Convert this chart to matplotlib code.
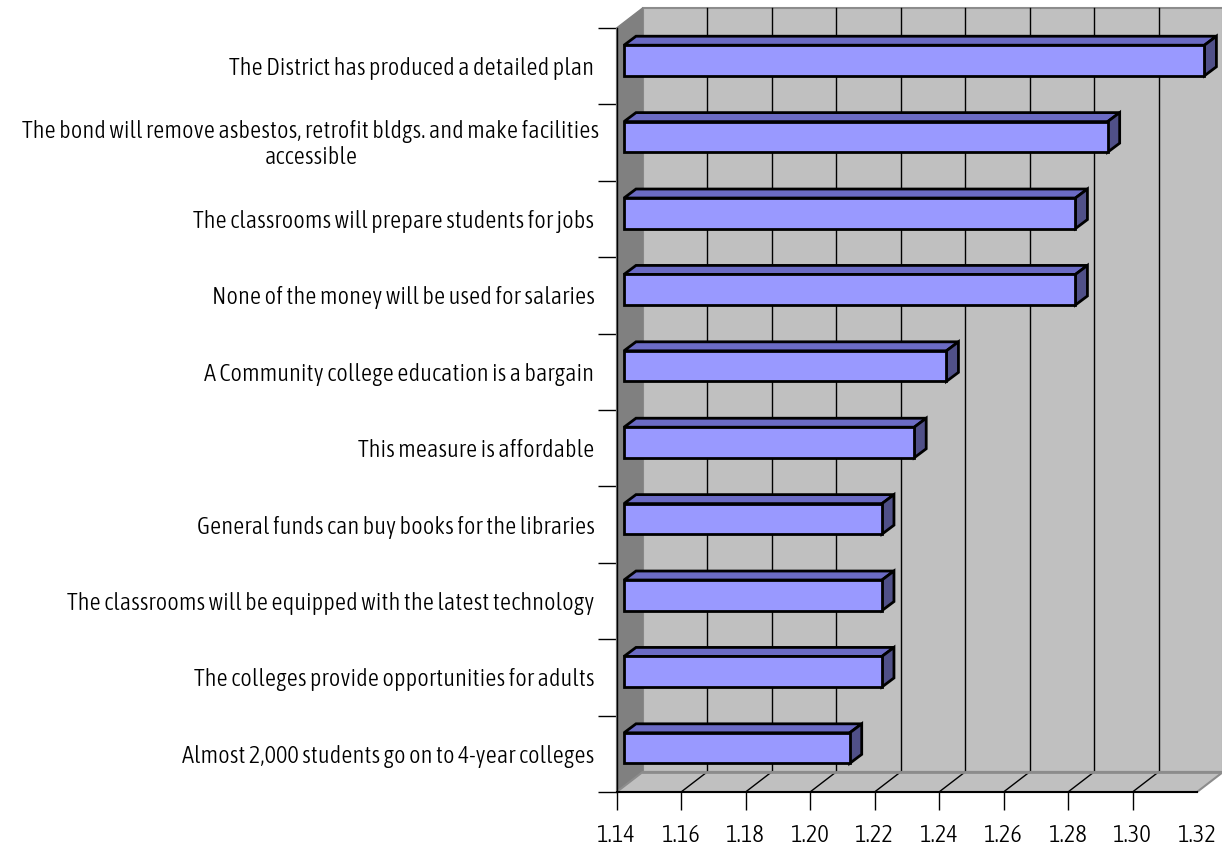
import matplotlib
matplotlib.use("Agg")
import matplotlib.pyplot as plt
from matplotlib.patches import Polygon
from matplotlib import font_manager
from matplotlib.font_manager import FontProperties
import numpy as np

# ---- data ----
categories = [
    "The District has produced a detailed plan",
    "The bond will remove asbestos, retrofit bldgs. and make facilities\naccessible",
    "The classrooms will prepare students for jobs",
    "None of the money will be used for salaries",
    "A Community college education is a bargain",
    "This measure is affordable",
    "General funds can buy books for the libraries",
    "The classrooms will be equipped with the latest technology",
    "The colleges provide opportunities for adults",
    "Almost 2,000 students go on to 4-year colleges",
]
values = [1.32, 1.29, 1.28, 1.28, 1.24, 1.23, 1.22, 1.22, 1.22, 1.21]
x_ticks = [1.14, 1.16, 1.18, 1.20, 1.22, 1.24, 1.26, 1.28, 1.30, 1.32]
x_ticklabels = ["1.14", "1.16", "1.18", "1.20", "1.22", "1.24", "1.26", "1.28", "1.30", "1.32"]

# ---- fonts: prefer a light condensed sans ----
def pick_font():
    best = None
    best_score = -1e9
    for f in font_manager.fontManager.ttflist:
        name = (f.name + " " + f.fname).lower()
        if "mono" in name or ("serif" in name and "sans" not in name):
            continue
        if "cjk" in name or "italic" in name or "oblique" in name:
            continue
        cond = ("condensed" in name or "narrow" in name or
                str(f.stretch) in ("condensed", "semi-condensed", "extra-condensed"))
        if not cond:
            continue
        score = 10.0
        w = f.weight if isinstance(f.weight, int) else {"normal": 400, "regular": 400, "light": 300,
                                                        "bold": 700}.get(str(f.weight), 400)
        score -= abs(w - 300) / 100.0
        if "semi" in name or "extra" in name or "ultra" in name:
            score -= 1
        if score > best_score:
            best_score = score
            best = f.fname
    return best

fpath = pick_font()
if fpath:
    base_fp = FontProperties(fname=fpath)
else:
    base_fp = FontProperties(family=["Liberation Sans", "DejaVu Sans"])

W, H = 1222, 846
fig = plt.figure(figsize=(W / 100, H / 100), dpi=100)

# fit label size so the bottom label spans ~413 px like the reference
renderer = fig.canvas.get_renderer()
probe = fig.text(0, 0, categories[-1], fontproperties=base_fp, fontsize=16)
wpx = probe.get_window_extent(renderer).width
probe.remove()
fs = min(18.0, 16.0 * 413.0 / wpx)
fp = base_fp.copy()
fp.set_size(fs)

# front plane of the chart (pixels in image coordinates)
x0px, x1px = 616.6, 1197.0
ytop_px, ybot_px = 28.0, 792.0
ax = fig.add_axes([x0px / W, (H - ybot_px) / H, (x1px - x0px) / W, (ybot_px - ytop_px) / H])

xmin, xmax = x_ticks[0], x_ticks[-1]
n = len(categories)
ylo, yhi = -0.5, n - 0.5
ax.set_xlim(xmin, xmax)
ax.set_ylim(ylo, yhi)

px_x = (xmax - xmin) / (x1px - x0px)
px_y = (yhi - ylo) / (ybot_px - ytop_px)

DX, DY = 26.0 * px_x, 20.0 * px_y            # full depth of the chart
BX, BY = 7.4 * px_x, 5.7 * px_y              # bar front plane offset
bDX, bDY = 12.0 * px_x, 9.0 * px_y           # bar depth

wall = "#c0c0c0"
side = "#808080"

def poly(pts, fc, ec, lw, z):
    p = Polygon(pts, closed=True, facecolor=fc, edgecolor=ec, linewidth=lw,
                zorder=z, clip_on=False, joinstyle="miter")
    ax.add_patch(p)

# back wall
poly([(xmin + DX, ylo + DY), (xmax + DX, ylo + DY), (xmax + DX, yhi + DY), (xmin + DX, yhi + DY)],
     wall, "#8c8c8c", 1.5, 1)
# side wall
poly([(xmin, ylo), (xmin + DX, ylo + DY), (xmin + DX, yhi + DY), (xmin, yhi)], side, side, 1.0, 2)
# floor
poly([(xmin, ylo), (xmax, ylo), (xmax + DX, ylo + DY), (xmin + DX, ylo + DY)], wall, "#8c8c8c", 1.5, 2)

for t in x_ticks[1:]:
    ax.plot([t + DX, t + DX], [ylo + DY, yhi + DY], color="black", lw=1.0, zorder=1.5, clip_on=False)
for t in x_ticks[1:-1]:
    ax.plot([t, t + DX], [ylo, ylo + DY], color="black", lw=1.0, zorder=2.5, clip_on=False)
ax.plot([xmin + DX, xmax + DX], [ylo + DY, ylo + DY], color="#8c8c8c", lw=2.0, zorder=2.6, clip_on=False)

# bars
ypos = np.arange(n)[::-1]
h = 0.4
front = "#9999ff"
top = "#6b6bc4"
sidec = "#505088"
for yc, v in zip(ypos, values):
    yb = yc - h / 2 + BY
    yt = yc + h / 2 + BY
    xl = xmin + BX
    xr = v + BX
    poly([(xl, yt), (xr, yt), (xr + bDX, yt + bDY), (xl + bDX, yt + bDY)], top, "black", 2.0, 5)
    poly([(xr, yb), (xr + bDX, yb + bDY), (xr + bDX, yt + bDY), (xr, yt)], sidec, "black", 2.0, 5)
    ax.barh(yc + BY, v - xmin, left=xl, height=h, color=front, edgecolor="black",
            linewidth=2.0, zorder=6, clip_on=False)

for s in ["top", "right"]:
    ax.spines[s].set_visible(False)
ax.spines["left"].set_color("black")
ax.spines["left"].set_linewidth(1.0)
ax.spines["bottom"].set_color("black")
ax.spines["bottom"].set_linewidth(1.5)
ax.spines["left"].set_zorder(3)
ax.spines["bottom"].set_zorder(3)
ax.patch.set_visible(False)

ax.set_xticks(x_ticks)
ax.set_xticklabels(x_ticklabels)
for lab in ax.get_xticklabels():
    lab.set_fontproperties(fp)
ax.tick_params(axis="x", direction="out", length=13, width=1.0, color="black", pad=10)
ax.xaxis.get_major_ticks()[-1].tick1line.set_visible(False)

ax.set_yticks(np.arange(n + 1) - 0.5)
ax.set_yticklabels([])
ax.tick_params(axis="y", which="major", direction="out", length=14, width=1.0, color="black")
ax.set_yticks(ypos, minor=True)
ylabels = [c if "\n" not in c else "" for c in categories]
ax.set_yticklabels(ylabels, minor=True)
for lab in ax.get_yticklabels(minor=True):
    lab.set_fontproperties(fp)
ax.tick_params(axis="y", which="minor", length=0, pad=16)

# the wrapped label is centred like the reference
for i, c in enumerate(categories):
    if "\n" in c:
        fig.text(311 / W, 1 - (143.5 + 1) / H, c, fontproperties=fp, ha="center", va="center",
                 multialignment="center", linespacing=1.15)

fig.savefig("out.png", dpi=100)
